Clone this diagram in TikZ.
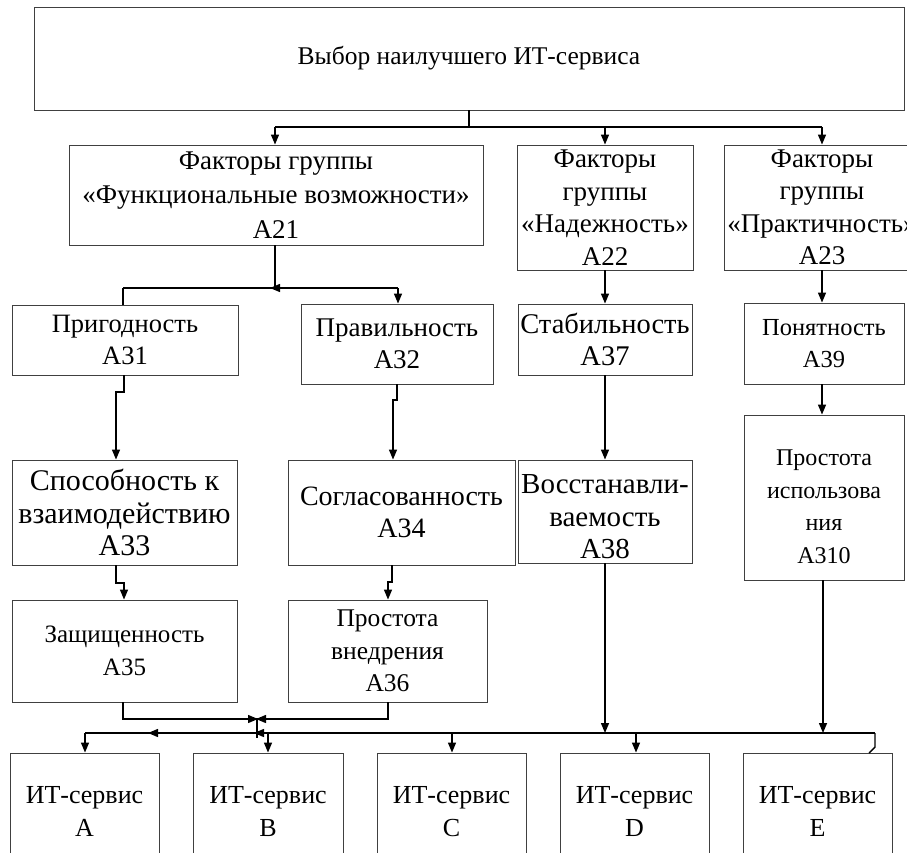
\documentclass[tikz,border=0pt]{standalone}
\usepackage{fontspec}
\setmainfont{Liberation Serif}
\usetikzlibrary{arrows.meta}
\begin{document}
\begin{tikzpicture}[x=1pt,y=-1pt,
  box/.style={draw=black!75,line width=0.9pt,fill=white,inner sep=0pt,align=center,
    font=\fontsize{26}{32.5}\selectfont},
  txt/.style={inner sep=0pt,align=center},
  fs/.style={font=\fontsize{#1}{32.5}\selectfont},
  link/.style={line width=1.4pt,black},
  arr/.style={link,-{Triangle[length=10pt,width=8pt]}},
  tip/.style={-{Triangle[length=10pt,width=8pt]},line width=1.4pt}]
\clip (0,0) rectangle (907,853);
\fill[white] (0,0) rectangle (907,853);
% boxes: centre, width, height
\node[box,fs=25.5,minimum width=870pt,minimum height=103pt] (top) at (469,58.5) {Выбор наилучшего ИТ-сервиса};
\node[box,font=\fontsize{27}{34.5}\selectfont,minimum width=414pt,minimum height=100pt] (a21) at (276,195) {Факторы группы\\«Функциональные возможности»\\A21};
\node[box,fs=27,minimum width=176pt,minimum height=125pt] (a22) at (605,207.5) {Факторы\\группы\\«Надежность»\\A22};
\node[box,fs=27,minimum width=196pt,minimum height=125pt] (a23) at (822,207.5) {Факторы\\группы\\«Практичность»\\A23};
\node[box,fs=26.5,minimum width=226pt,minimum height=70pt] (a31) at (125,340) {Пригодность\\A31};
\node[box,fs=27,minimum width=192pt,minimum height=80pt] (a32) at (397,344) {Правильность\\A32};
\node[box,fs=28.5,minimum width=174pt,minimum height=71pt] (a37) at (605,339.5) {Стабильность\\A37};
\node[box,fs=24.5,minimum width=160pt,minimum height=81pt] (a39) at (824,343.5) {Понятность\\A39};
\node[box,fs=30,minimum width=225pt,minimum height=105pt] (a33) at (124.5,512.5) {Способность к\\взаимодействию\\A33};
\node[box,fs=28,minimum width=227pt,minimum height=105pt] (a34) at (401.5,512.5) {Согласованность\\A34};
\node[box,minimum width=174pt,minimum height=103pt] (a38) at (605,511.5) {};
\node[txt,fs=29] (a38t) at (605,517) {Восстанавли-\\ваемость\\A38};
\node[box,minimum width=160pt,minimum height=165pt] (a310) at (824,497.5) {};
\node[txt,fs=24] (a310t) at (824,507) {Простота\\использова\\ния\\A310};
\node[box,fs=25,minimum width=225pt,minimum height=102pt] (a35) at (124.5,651) {Защищенность\\A35};
\node[box,fs=25.5,minimum width=199pt,minimum height=102pt] (a36) at (387.5,651) {Простота\\внедрения\\A36};
\node[box,minimum width=149pt,minimum height=117pt] (sa) at (84.5,811.5) {ИТ-сервис\\A};
\node[box,minimum width=150pt,minimum height=117pt] (sb) at (268,811.5) {ИТ-сервис\\B};
\node[box,minimum width=149pt,minimum height=117pt] (sc) at (451.5,811.5) {ИТ-сервис\\C};
\node[box,minimum width=149pt,minimum height=117pt] (sd) at (634.5,811.5) {ИТ-сервис\\D};
\node[box,minimum width=149pt,minimum height=117pt] (se) at (817.5,811.5) {ИТ-сервис\\E};
% junction points
\coordinate (j1) at (469,127);
\coordinate (j2) at (275,288);
\coordinate (j3) at (257,719);
\coordinate (busL) at (85,733);
\coordinate (busR) at (875,733);
% first level
\draw[link] (top.south -| j1) -- (j1);
\draw[link] (275,127) -- (822,127);
\draw[arr] (275,127) -- (a21.north -| 275,0);
\draw[arr] (605,127) -- (a22.north);
\draw[arr] (822,127) -- (a23.north);
% A21 branch
\draw[link] (a21.south -| j2) -- (j2);
\draw[link] (123,288) -- (398,288);
\draw[tip] (284,288) -- (270,288);
\draw[link] (123,288) -- (a31.north -| 123,0);
\draw[arr] (398,288) -- (a32.north -| 398,0);
\draw[arr] (a22.south) -- (a37.north);
\draw[arr] (a23.south) -- (a39.north -| a23.south);
% third level
\draw[arr] (a31.south -| 124,0) -- (124,392) -- (116,392) -- (a33.north -| 116,0);
\draw[arr] (a32.south -| 397,0) -- (397,400) -- (393,400) -- (a34.north -| 393,0);
\draw[arr] (a37.south) -- (a38.north);
\draw[arr] (a39.south -| 822,0) -- (a310.north -| 822,0);
\draw[arr] (a33.south -| 116,0) -- (116,583) -- (124,583) -- (a35.north -| 124,0);
\draw[arr] (a34.south -| 392,0) -- (392,582) -- (388,582) -- (a36.north -| 388,0);
% merge of A35 and A36
\draw[link] (a35.south -| 123,0) -- (123,719) -- (j3);
\draw[link] (a36.south -| 388,0) -- (388,719) -- (j3);
\draw[tip] (245,719) -- (258,719);
\draw[tip] (270,719) -- (256,719);
\draw[link] (j3) -- (257,738);
% bottom bus
\draw[link] (busL) -- (busR);
\draw[tip] (160,733) -- (148,733);
\draw[tip] (266,733) -- (254,733);
\draw[arr] (a38.south) -- (a38.south |- busR);
\draw[arr] (a310.south -| 823,0) -- (823,733);
\draw[arr] (busL) -- (sa.north -| busL);
\draw[arr] (268,733) -- (sb.north);
\draw[arr] (452,733) -- (sc.north -| 452,0);
\draw[arr] (636,733) -- (sd.north -| 636,0);
\draw[link] (busR) -- (875,747) -- (869,753);
\end{tikzpicture}
\end{document}
